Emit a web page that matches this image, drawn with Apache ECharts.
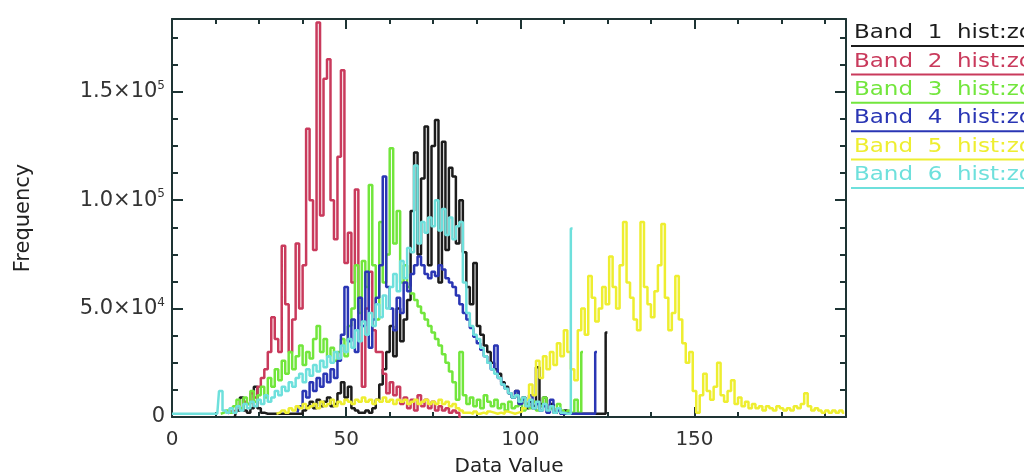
<!DOCTYPE html>
<html>
<head>
<meta charset="utf-8">
<script src="https://cdn.jsdelivr.net/npm/echarts@6/dist/echarts.min.js"></script>
<style>
  html, body { margin: 0; padding: 0; background: #fff; }
  #hist { width: 1024px; height: 476px; }
</style>
</head>
<body>
<div id="hist"></div>
<script>
// histogram counts per data value, each band starts at its own value
var bandNames = ['Band  1  hist:zoom', 'Band  2  hist:zoom', 'Band  3  hist:zoom',
                 'Band  4  hist:zoom', 'Band  5  hist:zoom', 'Band  6  hist:zoom'];
var bandColors = ['#1c1c1c', '#c93a5c', '#72e63c', '#2a36b4', '#eeee30', '#6ee0dc'];

var band1Start = 18;
var band1Freq = [0, 3000, 9000, 3000, 2000, 4000, 14000, 4000, 2000,
  1500, 1500, 1500, 1500, 1500, 1500, 1500, 1500, 1500, 1500, 1500,
  3000, 5000, 7000, 4000, 8000, 5000, 7000, 9000, 5000, 6000, 11000, 16000, 9000, 14000,
  4000, 3000, 2000, 2000, 3000, 2000, 4000, 8000, 15000, 22000, 30000, 42000, 28000,
  50000, 35000, 45000, 54000, 95000, 122000, 75000, 110000, 134000, 70000, 125000,
  137000, 62000, 127000, 77000, 115000, 111000, 80000, 100000, 76000, 60000, 52000,
  71000, 42000, 38000, 33000, 30000, 25000, 22000, 20000, 16000, 14000, 11000, 9000,
  12000, 6000, 9000, 4000, 7000, 5000, 23000, 6000, 9000, 3000, 6000, 2000, 4000,
  1500, 3000, 1500, 1500, 1500, 1500, 1500, 1500, 1500, 1500, 1500, 1500, 1500, 39000];

var band2Start = 16;
var band2Freq = [1500, 2500, 3000, 5000, 4000, 7000, 6000, 11000, 9000, 14000, 18000,
  22000, 30000, 46000, 36000, 30000, 79000, 52000, 30000, 45000, 80000, 50000, 70000,
  133000, 100000, 77000, 182000, 93000, 156000, 165000, 100000, 82000, 120000, 160000,
  71000, 85000, 62000, 105000, 55000, 14000, 50000, 67000, 40000, 30000, 30000, 20000,
  11000, 16000, 10000, 14000, 6000, 9000, 4000, 8000, 3000, 10000, 5000, 8000, 4000,
  7000, 3000, 5000, 3000, 4000, 2000, 3000, 2000, 0];

var band3Start = 14;
var band3Freq = [1500, 2000, 3000, 2000, 5000, 8000, 4000, 9000, 6000, 12000, 7000,
  10000, 14000, 9000, 18000, 14000, 22000, 17000, 26000, 20000, 30000, 22000, 28000,
  33000, 24000, 30000, 27000, 36000, 42000, 30000, 36000, 28000, 32000, 26000, 30000,
  36000, 28000, 42000, 50000, 70000, 48000, 72000, 60000, 107000, 70000, 45000, 90000,
  62000, 75000, 124000, 80000, 95000, 62000, 70000, 60000, 57000, 54000, 51000, 48000,
  45000, 42000, 39000, 36000, 33000, 29000, 25000, 21000, 16000, 8000, 30000, 10000,
  6000, 9000, 5000, 8000, 4000, 10000, 7000, 5000, 8000, 4000, 6000, 3000, 7000, 4000,
  5000, 8000, 3000, 6000, 4000, 7000, 3000, 5000, 9000, 3000, 4000, 2000, 6000, 3000,
  2000, 3000, 2000, 8000, 2000, 30000];

var band4Start = 36;
var band4Freq = [2000, 5000, 12000, 9000, 16000, 12000, 18000, 14000, 20000, 16000,
  22000, 18000, 26000, 38000, 60000, 35000, 45000, 30000, 55000, 42000, 67000, 32000,
  45000, 55000, 70000, 111000, 60000, 50000, 40000, 55000, 48000, 62000, 58000, 66000,
  70000, 74000, 70000, 66000, 64000, 67000, 65000, 70000, 68000, 64000, 62000, 60000,
  56000, 52000, 48000, 45000, 41000, 37000, 34000, 31000, 28000, 25000, 22000, 33000,
  18000, 15000, 13000, 11000, 9000, 12000, 6000, 8000, 5000, 10000, 4000, 6000, 3000,
  5000, 2000, 8000, 2000, 3000, 1500, 1500, 1500, 1500, 1500, 1500, 1500, 1500, 1500,
  1500, 30000];

var band5Start = 30;
var band5Freq = [1500, 2000, 3000, 2000, 4000, 3000, 5000, 4000, 6000, 4000, 5000, 6000,
  4000, 7000, 5000, 6000, 8000, 5000, 7000, 6000, 8000, 7000, 6000, 8000, 7000, 9000,
  7000, 8000, 6000, 8000, 7000, 9000, 7000, 8000, 6000, 8000, 7000, 8000, 6000, 7000,
  8000, 6000, 7000, 8000, 6000, 7000, 6000, 8000, 6000, 7000, 5000, 6000, 4000, 3000,
  2000, 2000, 1500, 2500, 1500, 2000, 1500, 2500, 2000, 1500, 2000, 1500, 2500, 2000,
  1500, 2000, 2500, 4000, 8000, 15000, 10000, 26000, 18000, 28000, 22000, 30000, 24000,
  34000, 28000, 40000, 30000, 22000, 17000, 40000, 50000, 38000, 65000, 55000, 44000,
  50000, 60000, 52000, 74000, 60000, 50000, 70000, 90000, 62000, 55000, 45000, 40000,
  90000, 60000, 52000, 46000, 58000, 70000, 89000, 55000, 40000, 48000, 65000, 45000,
  34000, 25000, 30000, 12000, 2000, 10000, 20000, 12000, 8000, 14000, 25000, 10000,
  7000, 12000, 17000, 6000, 9000, 5000, 7000, 4000, 6000, 4000, 5000, 3000, 5000, 4000,
  3000, 5000, 4000, 3000, 4000, 3000, 5000, 4000, 6000, 11000, 5000, 3000, 4000, 3000,
  2000, 3000, 2000, 3000, 2000, 3000, 2000];

var band6Start = 0;
var band6Freq = [1500, 1500, 1500, 1500, 1500, 1500, 1500, 1500, 1500, 1500, 1500, 1500,
  1500, 1500, 12000, 3000, 2000, 4000, 2000, 5000, 3000, 6000, 4000, 7000, 5000, 8000,
  6000, 10000, 7000, 9000, 12000, 10000, 14000, 12000, 16000, 14000, 18000, 20000,
  16000, 22000, 19000, 24000, 21000, 26000, 23000, 28000, 25000, 30000, 27000, 33000,
  30000, 36000, 32000, 40000, 35000, 44000, 38000, 48000, 42000, 52000, 46000, 56000,
  50000, 60000, 66000, 58000, 72000, 64000, 78000, 76000, 116000, 80000, 90000, 85000,
  92000, 88000, 100000, 86000, 96000, 84000, 92000, 82000, 88000, 90000, 62000, 48000,
  42000, 38000, 36000, 32000, 28000, 25000, 22000, 20000, 18000, 15000, 13000, 11000,
  9000, 10000, 7000, 9000, 5000, 8000, 4000, 7000, 3000, 6000, 3000, 5000, 2000, 4000,
  2000, 1500, 1500, 87000];

var bandStarts = [band1Start, band2Start, band3Start, band4Start, band5Start, band6Start];
var bandFreqs = [band1Freq, band2Freq, band3Freq, band4Freq, band5Freq, band6Freq];

var xMin = 0, xMax = 193.5;
var yMin = 0, yMax = 183600;
var xTickValues = [0, 50, 100, 150];
var yTickValues = [0, 50000, 100000, 150000];
var yTickMantissa = ['0', '5.0\u00d710', '1.0\u00d710', '1.5\u00d710'];
var yTickExponent = ['', '4', '5', '5'];

var font = 'DejaVu Sans';
var axisColor = '#1e3434';

var chart = echarts.init(document.getElementById('hist'));

function xAxisOf(pos, step, len, labels, line) {
  return {
    type: 'value', position: pos, min: xMin, max: xMax, interval: step,
    splitLine: {show: false},
    axisLine: {show: line, onZero: false, lineStyle: {color: axisColor, width: 2}},
    axisTick: {show: true, inside: true, length: len, lineStyle: {color: axisColor, width: 2}},
    axisLabel: {
      show: labels, margin: 13, color: '#333', fontFamily: font, fontSize: 20,
      formatter: function (v) { return xTickValues.indexOf(v) >= 0 ? String(v) : ''; }
    }
  };
}

function yAxisOf(pos, step, len, labels, line) {
  return {
    type: 'value', position: pos, min: yMin, max: yMax, interval: step,
    splitLine: {show: false},
    axisLine: {show: line, onZero: false, lineStyle: {color: axisColor, width: 2}},
    axisTick: {show: true, inside: true, length: len, lineStyle: {color: axisColor, width: 2}},
    axisLabel: {
      show: labels, margin: 7,
      formatter: function (v) {
        var i = yTickValues.indexOf(v);
        if (i < 0) return '';
        if (!yTickExponent[i]) return '{m|' + yTickMantissa[i] + '}';
        return '{m|' + yTickMantissa[i] + '}{e|' + yTickExponent[i] + '}';
      },
      rich: {
        m: {color: '#333', fontFamily: font, fontSize: 21},
        e: {color: '#333', fontFamily: font, fontSize: 12, verticalAlign: 'top', padding: [0, 0, 12, 0]}
      }
    }
  };
}

var xAxes = [
  xAxisOf('bottom', 50, 10, true, true),
  xAxisOf('bottom', 12.5, 5, false, false),
  xAxisOf('top', 50, 10, false, true),
  xAxisOf('top', 12.5, 5, false, false)
];
xAxes[0].name = 'Data Value';
xAxes[0].nameLocation = 'middle';
xAxes[0].nameGap = 40;
xAxes[0].nameTextStyle = {color: '#222', fontFamily: font, fontSize: 20};

var yAxes = [
  yAxisOf('left', 50000, 11, true, true),
  yAxisOf('left', 12500, 6, false, false),
  yAxisOf('right', 50000, 11, false, true),
  yAxisOf('right', 12500, 6, false, false)
];
yAxes[0].name = 'Frequency';
yAxes[0].nameLocation = 'middle';
yAxes[0].nameGap = 138;
yAxes[0].nameTextStyle = {color: '#222', fontFamily: font, fontSize: 21};

var series = bandNames.map(function (name, b) {
  return {
    name: name,
    type: 'line',
    step: 'middle',
    showSymbol: false,
    animation: false,
    xAxisIndex: 0,
    yAxisIndex: 0,
    lineStyle: {color: bandColors[b], width: 2.5},
    data: bandFreqs[b].map(function (f, i) { return [bandStarts[b] + i, f]; })
  };
});

// legend drawn as coloured, underlined labels at the right edge
var legendItems = [];
bandNames.forEach(function (name, b) {
  var y = 33 + b * 28.4;
  legendItems.push({
    type: 'text', x: 854, y: y, scaleX: 1.15, silent: true,
    style: {
      text: name, x: 0, y: 0, fill: bandColors[b], font: '20px "DejaVu Sans"',
      align: 'left', verticalAlign: 'middle', textAlign: 'left', textVerticalAlign: 'middle'
    }
  });
  legendItems.push({
    type: 'line', silent: true,
    shape: {x1: 851, y1: y + 13, x2: 1024, y2: y + 13},
    style: {stroke: bandColors[b], lineWidth: 2}
  });
});

chart.setOption({
  backgroundColor: '#fff',
  animation: false,
  grid: {left: 172, right: 178, top: 19, bottom: 59, containLabel: false, outerBoundsMode: 'none'},
  xAxis: xAxes,
  yAxis: yAxes,
  series: series,
  graphic: legendItems
});
</script>
</body>
</html>
